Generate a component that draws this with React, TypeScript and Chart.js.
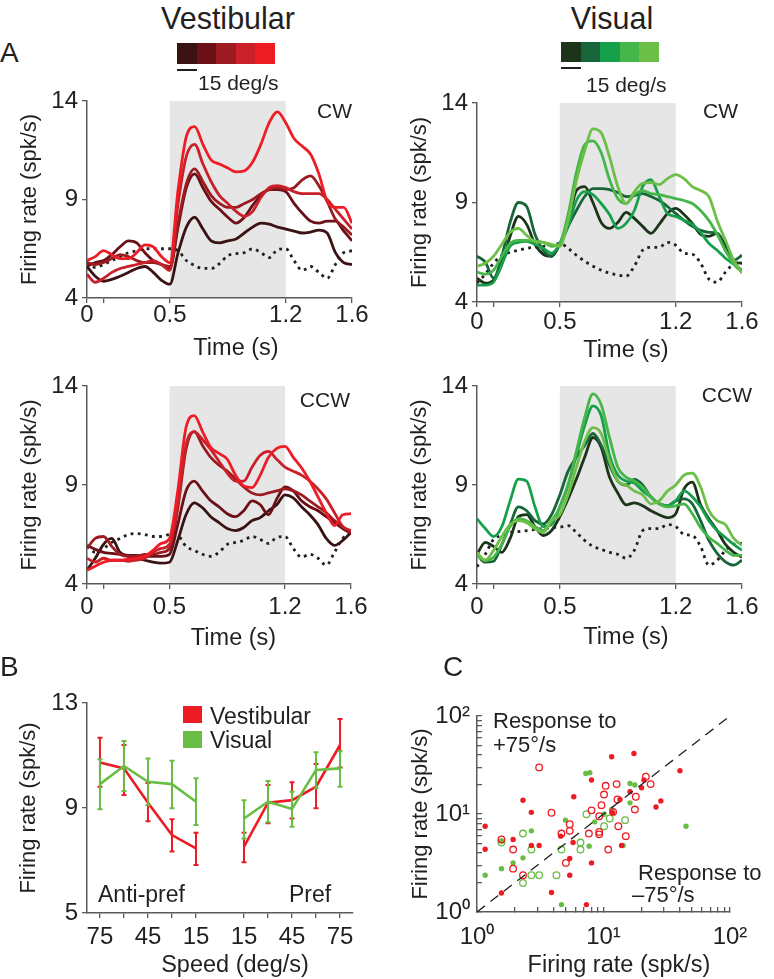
import React, { useEffect, useRef } from "react";
import { Chart, registerables } from "chart.js";
Chart.register(...registerables);

const FONT = '"Liberation Sans", Arial, Helvetica, sans-serif';
const TXT = "#231f20";
const AXIS = "#5a5a5a";
const SHADE = "#e6e6e6";
const FS_TICK = 24;
const FS_YTITLE = 22;

// ---------- Panel A data ----------
const TIME = [0, 0.05, 0.1, 0.15, 0.2, 0.25, 0.3, 0.35, 0.4, 0.45, 0.5, 0.55, 0.6, 0.65, 0.7, 0.75, 0.8, 0.85, 0.9, 0.95, 1.0, 1.05, 1.1, 1.15, 1.2, 1.25, 1.3, 1.35, 1.4, 1.45, 1.5, 1.55, 1.6];
const STIM_ON = 0.5;
const STIM_OFF = 1.2;
const A_X_TICKS = [0, 0.1, 0.5, 1.2, 1.6];
const A_X_LABELS = ["0", "", "0.5", "1.2", "1.6"];
const A_Y_TICKS = [4, 9, 14];

const VEST_COLORS = ["#3b1214", "#6b1016", "#9b1b21", "#c9202a", "#ee1c25"];
const VIS_COLORS = ["#1c3419", "#17663a", "#16a04b", "#45b649", "#6dbf47"];

const VEST_CW_1 = [5.6, 5.1, 4.85, 4.95, 5.1, 5.3, 5.5, 5.6, 5.3, 4.9, 4.7, 6.3, 7.6, 8.1, 7.5, 6.9, 6.8, 6.9, 7.0, 7.3, 7.6, 7.8, 7.75, 7.6, 7.5, 7.4, 7.3, 7.35, 7.45, 7.3, 6.3, 5.8, 5.7];
const VEST_CW_2 = [5.6, 5.8, 5.9, 6.2, 6.6, 6.9, 6.8, 6.3, 5.9, 5.7, 5.5, 7.6, 9.6, 10.3, 9.6, 8.9, 8.5, 8.1, 7.8, 8.1, 8.7, 9.2, 9.5, 9.5, 9.4, 8.8, 8.3, 7.9, 7.8, 7.9, 7.9, 7.4, 6.9];
const VEST_CW_3 = [5.8, 5.7, 5.8, 6.0, 6.2, 6.1, 5.9, 5.8, 5.8, 5.7, 5.6, 7.8, 9.8, 10.55, 9.9, 9.2, 8.8, 8.6, 8.6, 8.8, 9.0, 9.3, 9.5, 9.6, 9.5, 9.6, 10.0, 10.2, 9.7, 8.9, 8.0, 7.6, 7.2];
const VEST_CW_4 = [5.2, 4.8, 5.0, 5.3, 5.5, 5.6, 5.7, 5.8, 5.9, 5.7, 5.4, 8.8, 11.2, 11.8, 10.8, 9.9, 9.2, 8.8, 8.4, 8.15, 8.4, 9.1, 9.6, 9.7, 9.6, 9.4, 9.3, 9.3, 9.3, 9.0, 8.5, 8.0, 7.5];
const VEST_CW_5 = [5.9, 6.1, 6.4, 6.2, 6.0, 6.0, 6.3, 6.7, 6.6, 6.1, 5.8, 9.5, 12.2, 12.7, 11.8, 11.0, 10.8, 10.6, 10.4, 10.45, 10.9, 11.8, 12.9, 13.45, 12.9, 12.1, 11.7, 11.3, 10.3, 8.9, 8.6, 8.6, 7.8];
const VEST_CW_BASE = [5.8, 5.55, 5.7, 5.9, 6.1, 6.3, 6.4, 6.5, 6.5, 6.5, 6.5, 6.4, 5.9, 5.65, 5.5, 5.5, 5.75, 6.15, 6.25, 6.3, 6.5, 6.3, 6.05, 6.45, 6.5, 5.9, 5.4, 5.6, 5.3, 5.0, 5.7, 6.3, 6.4];

const VIS_CW_1 = [5.2, 4.95, 5.1, 5.9, 7.3, 8.3, 7.9, 6.9, 6.4, 6.3, 6.9, 8.0, 9.6, 9.8, 9.0, 8.0, 7.7, 8.0, 8.5, 8.2, 7.8, 7.45, 7.9, 8.45, 8.7, 8.4, 7.95, 7.4, 7.3, 7.45, 6.8, 6.0, 5.95];
const VIS_CW_2 = [6.3, 6.0, 5.2, 6.3, 8.0, 9.0, 8.8, 7.4, 6.6, 6.3, 6.95, 7.8, 8.6, 9.3, 9.7, 9.7, 9.65, 9.5, 9.3, 9.35, 9.45, 9.3, 9.1, 8.8, 8.45, 8.1, 7.8, 7.6, 7.5, 7.45, 6.6, 6.1, 6.35];
const VIS_CW_3 = [4.85, 4.85, 5.0, 5.9, 6.8, 7.0, 7.05, 6.9, 6.7, 6.45, 6.9, 7.8, 9.1, 9.55, 9.4, 8.95, 8.4, 7.7, 7.95, 8.6, 9.8, 10.15, 9.3, 8.45, 8.3, 8.1, 7.9, 7.5, 6.95, 6.6, 6.2, 5.9, 5.6];
const VIS_CW_4 = [5.5, 5.4, 5.6, 6.3, 6.95, 7.1, 7.1, 7.05, 7.0, 6.8, 6.95, 8.4, 10.5, 11.9, 12.1, 11.5, 10.15, 9.2, 8.95, 9.4, 9.6, 9.45, 9.4, 9.3, 9.2, 9.1, 8.95, 8.6, 8.1, 7.4, 6.6, 5.9, 5.5];
const VIS_CW_5 = [5.8, 5.95, 6.3, 6.9, 7.5, 7.7, 7.35, 7.05, 7.0, 6.9, 6.8, 8.1, 10.1, 11.6, 12.7, 12.5, 11.3, 9.8, 8.95, 9.55, 9.96, 10.0, 9.9, 10.2, 10.4, 10.2, 9.8, 9.6, 9.3, 8.1, 7.1, 6.1, 5.45];
const VIS_CW_BASE = [4.95, 5.4, 5.95, 6.35, 6.5, 6.6, 6.7, 6.75, 6.8, 6.85, 6.95, 6.7, 6.35, 6.05, 5.8, 5.6, 5.45, 5.35, 5.3, 5.8, 6.6, 6.75, 6.75, 7.0, 6.85, 6.45, 6.4, 5.95, 5.15, 5.0, 5.5, 5.9, 5.95];

const VEST_CCW_1 = [4.7, 5.3, 6.0, 6.3, 5.6, 5.4, 5.3, 5.2, 5.1, 5.05, 5.1, 6.2, 7.5, 8.1, 7.85, 7.4, 7.1, 6.8, 6.7, 6.85, 7.2, 7.35, 7.7, 8.0, 8.5, 8.35, 7.9, 7.5, 7.0, 6.3, 5.95, 6.2, 6.6];
const VEST_CCW_2 = [5.95, 5.75, 5.6, 5.55, 5.5, 5.45, 5.45, 5.4, 5.4, 5.4, 5.5, 7.0, 8.7, 9.2, 8.7, 8.2, 7.9, 7.55, 7.4, 7.7, 8.2, 8.0, 7.5, 8.3, 8.9, 8.7, 8.2, 7.9, 7.7, 7.4, 7.1, 6.8, 6.55];
const VEST_CCW_3 = [5.8, 6.3, 6.4, 5.9, 5.5, 5.4, 5.4, 5.5, 5.5, 5.6, 5.8, 7.8, 10.8, 11.7, 11.0, 10.4, 10.0, 9.7, 9.3, 8.9, 8.6, 8.5, 8.6, 8.7, 8.8, 8.7, 8.5, 8.2, 7.9, 7.6, 7.2, 6.9, 6.6];
const VEST_CCW_4 = [5.3, 5.1, 5.3, 5.2, 5.2, 5.15, 5.2, 5.3, 5.6, 5.8, 6.0, 8.0, 11.0, 11.7, 11.3, 10.8, 10.2, 9.6, 9.2, 9.2, 9.9, 10.5, 10.7, 10.3, 9.9, 9.7, 9.5, 9.2, 8.8, 8.3, 7.6, 6.9, 6.7];
const VEST_CCW_5 = [4.7, 4.9, 5.1, 5.2, 5.2, 5.25, 5.3, 5.4, 5.7, 6.05, 6.3, 8.7, 11.9, 12.5, 11.7, 10.9, 10.6, 10.3, 9.5, 8.95, 8.87, 9.5, 10.4, 10.85, 10.95, 10.4, 9.87, 9.2, 8.4, 7.6, 6.95, 7.5, 7.55];
const VEST_CCW_BASE = [5.9, 5.6, 5.8, 6.1, 6.3, 6.5, 6.55, 6.5, 6.4, 6.4, 6.5, 6.45, 5.9, 5.7, 5.5, 5.4, 5.6, 6.0, 6.1, 6.2, 6.4, 6.25, 6.05, 6.35, 6.4, 5.8, 5.35, 5.5, 5.3, 4.95, 5.6, 6.3, 6.6];

const VIS_CCW_1 = [5.5, 6.1, 5.9, 5.6, 6.3, 7.4, 7.5, 6.9, 6.45, 6.7, 7.4, 8.3, 9.3, 10.4, 11.4, 10.9, 9.4, 8.6, 8.0, 8.1, 7.95, 7.7, 7.5, 7.35, 7.55, 8.8, 9.15, 8.0, 7.3, 6.7, 6.0, 5.6, 5.35];
const VIS_CCW_2 = [5.5, 5.1, 5.15, 6.0, 7.0, 7.9, 7.7, 7.2, 7.03, 7.5, 8.5, 9.7, 10.4, 11.0, 11.6, 11.0, 10.0, 9.2, 9.0, 9.28, 9.0, 8.4, 8.05, 7.95, 8.2, 8.3, 8.05, 7.2, 6.2, 5.55, 5.12, 4.95, 5.2];
const VIS_CCW_3 = [7.3, 6.8, 6.4, 6.9, 8.2, 9.3, 9.2, 7.9, 6.9, 7.0, 7.9, 9.0, 10.5, 12.0, 13.0, 12.5, 10.5, 9.5, 9.2, 9.1, 8.7, 8.4, 8.05, 7.95, 8.2, 8.7, 8.4, 7.9, 7.2, 6.7, 6.35, 6.0, 5.7];
const VIS_CCW_4 = [5.45, 5.2, 5.35, 6.0, 6.9, 7.3, 7.2, 6.9, 6.7, 7.2, 7.85, 9.0, 10.7, 12.4, 13.6, 13.05, 11.4, 9.9, 9.4, 9.2, 8.9, 8.4, 8.05, 7.9, 7.95, 8.05, 7.55, 6.85, 6.35, 6.05, 5.7, 5.45, 5.45];
const VIS_CCW_5 = [5.6, 5.2, 5.7, 6.4, 7.0, 7.2, 7.1, 6.8, 6.6, 7.2, 7.5, 8.5, 9.9, 11.2, 11.9, 11.6, 10.2, 9.2, 9.0, 8.7, 8.5, 8.05, 8.2, 8.7, 9.0, 9.5, 9.6, 8.9, 7.7, 7.2, 7.0, 6.3, 5.95];
const VIS_CCW_BASE = [4.87, 5.5, 6.25, 6.45, 6.6, 6.65, 6.7, 6.75, 6.8, 6.85, 6.87, 6.95, 6.6, 6.2, 5.9, 5.75, 5.6, 5.5, 5.3, 5.7, 6.7, 6.8, 6.8, 7.0, 6.9, 6.5, 6.45, 5.9, 4.95, 5.2, 5.7, 6.0, 6.05];

// ---------- Panel B data ----------
const B_POS = [0, 1, 2, 3, 4, 6, 7, 8, 9, 10];
const B_GAP = 5;
const B_TICK_LABELS: Record<number, string> = { 0: "75", 2: "45", 4: "15", 6: "15", 8: "45", 10: "75" };
const B_Y_TICKS = [5, 9, 13];
const VEST_MEAN = [10.73, 10.51, 9.2, 7.97, 7.46, 7.53, 9.2, 9.3, 9.81, 11.4];
const VEST_HI = [11.68, 11.4, 9.95, 8.57, 8.06, 8.06, 9.88, 9.98, 10.68, 12.39];
const VEST_LO = [9.81, 9.5, 8.5, 7.34, 6.83, 6.93, 8.42, 8.6, 8.99, 10.54];
const VIS_MEAN = [9.91, 10.6, 10.0, 9.91, 9.24, 8.6, 9.24, 8.96, 10.45, 10.51];
const VIS_HI = [10.86, 11.55, 10.89, 10.8, 10.13, 9.3, 10.03, 9.62, 11.12, 11.17];
const VIS_LO = [8.95, 9.65, 9.11, 8.99, 8.35, 7.84, 8.46, 8.29, 9.75, 9.81];
const RED = "#ed1c24";
const GREEN = "#68bd45";

// ---------- Panel C data ----------
const C_TICKS = [1, 2, 3, 4, 5, 6, 7, 8, 9, 10, 20, 30, 40, 50, 60, 70, 80, 90, 100];
const C_LABELS: Record<number, string> = { 1: "10\u2070", 10: "10\u00b9", 100: "10\u00b2" };
const RED_FILLED_X = [1.16, 1.16, 1.93, 2.31, 2.69, 2.69, 3.1, 3.88, 4.59, 5.41, 5.41, 5.75, 5.82, 7.33, 8.04, 8.04, 11.6, 11.8, 13.5, 13.9, 16.2, 17.4, 20.0, 20.9, 26, 28.4, 40.2, 1.56];
const RED_FILLED_Y = [7.5, 4.37, 5.49, 13.8, 10.4, 4.77, 4.77, 1.58, 5.94, 3.51, 2.37, 5.11, 15.0, 1.19, 22.2, 3.17, 38.4, 10.3, 14.1, 4.77, 16.9, 41.5, 18.5, 22.2, 11.8, 13.6, 27.6, 1.56];
const RED_OPEN_X = [3.1, 3.88, 1.56, 1.93, 1.93, 2.31, 4.65, 5.41, 5.41, 5.04, 7.66, 8.04, 9.25, 9.25, 9.25, 9.64, 10.1, 10.4, 10.9, 11.9, 12.7, 12.9, 13.1, 15.0, 17.7, 18.0, 21.6, 23.6];
const RED_OPEN_Y = [29.9, 10.3, 5.49, 4.34, 2.77, 2.37, 6.32, 7.87, 6.73, 3.17, 6.32, 10.9, 6.57, 6.2, 9.5, 12.3, 15.8, 19.4, 4.34, 10.5, 20.2, 14.1, 7.5, 5.94, 11.1, 15.0, 24.0, 20.2];
const GREEN_FILLED_X = [1.16, 1.56, 1.56, 1.93, 2.31, 2.69, 4.65, 5.0, 7.25, 7.8, 7.7, 8.53, 10.1, 11.6, 16.2, 16.2, 17.7, 14.3, 44.9];
const GREEN_FILLED_Y = [2.37, 2.77, 5.3, 3.17, 3.57, 6.73, 1.19, 8.65, 25.9, 26.4, 4.7, 8.32, 9.95, 11.1, 20.5, 13.0, 19.8, 4.77, 7.5];
const GREEN_OPEN_X = [1.56, 2.31, 2.69, 2.31, 2.69, 3.1, 4.25, 4.65, 6.58, 6.58, 7.33, 10.1, 11.2, 14.8];
const GREEN_OPEN_Y = [5.11, 6.32, 4.34, 1.98, 2.37, 2.37, 2.37, 4.34, 5.11, 4.34, 9.95, 7.5, 9.0, 8.65];
const C_DIAG = [1, 100];

// ---------- layout ----------
type Frame = { cl: number; ct: number; cw: number; ch: number; L: number; T: number; R: number; B: number; yTitleX: number; xPad: number };
const F_A1: Frame = { cl: 0, ct: 85, cw: 380, ch: 275, L: 87, T: 98, R: 352, B: 298, yTitleX: 30, xPad: 0.5 };
const F_A2: Frame = { cl: 390, ct: 85, cw: 384, ch: 280, L: 477, T: 103, R: 742, B: 302, yTitleX: 420, xPad: 3.5 };
const F_A3: Frame = { cl: 0, ct: 370, cw: 380, ch: 280, L: 87, T: 384, R: 351, B: 584, yTitleX: 30, xPad: 6 };
const F_A4: Frame = { cl: 390, ct: 370, cw: 384, ch: 280, L: 477, T: 384, R: 742, B: 584, yTitleX: 420, xPad: 6 };
const F_B: Frame = { cl: 0, ct: 680, cw: 380, ch: 299, L: 87, T: 703, R: 353, B: 913, yTitleX: 29, xPad: 7.5 };
const F_C: Frame = { cl: 390, ct: 680, cw: 384, ch: 299, L: 477, T: 716, R: 730, B: 912, yTitleX: 421, xPad: 18 };

function layoutOf(f: Frame) {
  return { padding: { left: 0, top: f.T - f.ct, right: f.cl + f.cw - f.R, bottom: 0 } };
}

function xAxis(f: Frame, o: { type: string; min: number; max: number; ticks: number[]; label: (v: number) => string; tl?: number }) {
  return {
    type: o.type, min: o.min, max: o.max,
    afterBuildTicks: (s: any) => { s.ticks = o.ticks.map((v) => ({ value: v })); },
    afterFit: (s: any) => { s.height = f.ct + f.ch - f.B; },
    grid: { drawOnChartArea: false, drawTicks: true, tickLength: o.tl ?? 5, color: AXIS, lineWidth: 1.3 },
    border: { display: true, color: AXIS, width: 1.5 },
    ticks: { autoSkip: false, maxRotation: 0, minRotation: 0, padding: f.xPad, color: TXT, font: { family: FONT, size: FS_TICK, lineHeight: 1 }, callback: (v: any) => o.label(v) },
    title: { display: false },
  };
}
function yAxis(f: Frame, o: { type: string; min: number; max: number; ticks: number[]; label: (v: number) => string; pad: number; tl?: number }) {
  return {
    type: o.type, min: o.min, max: o.max,
    afterBuildTicks: (s: any) => { s.ticks = o.ticks.map((v) => ({ value: v })); },
    afterFit: (s: any) => { s.width = f.L - f.cl; },
    grid: { drawOnChartArea: false, drawTicks: true, tickLength: o.tl ?? 5, color: AXIS, lineWidth: 1.3 },
    border: { display: true, color: AXIS, width: 1.5 },
    ticks: { autoSkip: false, padding: o.pad, color: TXT, font: { family: FONT, size: FS_TICK, lineHeight: 1 }, callback: (v: any) => o.label(v) },
    title: { display: true, text: "Firing rate (spk/s)", color: TXT, font: { family: FONT, size: FS_YTITLE, lineHeight: 1.2 }, padding: { top: f.yTitleX - f.cl - FS_YTITLE * 0.6, bottom: 0 } },
  };
}

const shadePlugin = {
  id: "shade",
  beforeDraw(chart: any) {
    const { ctx, chartArea, scales } = chart;
    const x1 = scales.x.getPixelForValue(STIM_ON);
    const x2 = scales.x.getPixelForValue(STIM_OFF);
    ctx.save();
    ctx.fillStyle = SHADE;
    ctx.fillRect(x1, chartArea.top, x2 - x1, chartArea.bottom - chartArea.top);
    ctx.restore();
  },
};

function lineConfig(f: Frame, series: number[][], colors: string[], base: number[]): any {
  const datasets: any[] = [];
  for (let i = series.length - 1; i >= 0; i--) {
    datasets.push({
      data: series[i].map((y, k) => ({ x: TIME[k], y })),
      borderColor: colors[i], borderWidth: 2.8, pointRadius: 0, tension: 0.4, cubicInterpolationMode: "monotone", fill: false,
    });
  }
  datasets.push({
    data: base.map((y, k) => ({ x: TIME[k], y })),
    borderColor: TXT, borderWidth: 2.8, borderDash: [2.8, 4.4], pointRadius: 0, tension: 0.4, cubicInterpolationMode: "monotone", fill: false,
  });
  return {
    type: "line",
    data: { datasets },
    plugins: [shadePlugin],
    options: {
      responsive: false, animation: false, devicePixelRatio: 1,
      layout: layoutOf(f),
      plugins: { legend: { display: false }, tooltip: { enabled: false } },
      scales: {
        x: xAxis(f, { type: "linear", min: 0, max: 1.6, ticks: A_X_TICKS, label: (v) => A_X_LABELS[A_X_TICKS.indexOf(v)] ?? "" }),
        y: yAxis(f, { type: "linear", min: 4, max: 14, ticks: A_Y_TICKS, label: (v) => String(v), pad: 4 }),
      },
    },
  };
}

const errPlugin = {
  id: "errbars",
  afterDatasetDraw(chart: any, args: any) {
    const ds = chart.data.datasets[args.index];
    if (!ds.errLo) return;
    const { ctx } = chart;
    const xs = chart.scales.x, ys = chart.scales.y;
    ctx.save();
    ctx.strokeStyle = ds.borderColor;
    ctx.lineWidth = 2;
    ds.errLo.forEach((lo: number, i: number) => {
      const x = xs.getPixelForValue(B_POS[i]);
      const y1 = ys.getPixelForValue(lo);
      const y2 = ys.getPixelForValue(ds.errHi[i]);
      ctx.beginPath();
      ctx.moveTo(x, y1); ctx.lineTo(x, y2);
      ctx.moveTo(x - 2.5, y1); ctx.lineTo(x + 2.5, y1);
      ctx.moveTo(x - 2.5, y2); ctx.lineTo(x + 2.5, y2);
      ctx.stroke();
    });
    ctx.restore();
  },
};

function bSeries(mean: number[]) {
  const out: any[] = [];
  B_POS.forEach((x, i) => {
    if (x === B_GAP + 1) out.push({ x: B_GAP, y: null });
    out.push({ x, y: mean[i] });
  });
  return out;
}

function bConfig(f: Frame): any {
  return {
    type: "line",
    data: {
      datasets: [
        { data: bSeries(VIS_MEAN), borderColor: GREEN, borderWidth: 2.6, pointRadius: 0, tension: 0, spanGaps: false, errLo: VIS_LO, errHi: VIS_HI },
        { data: bSeries(VEST_MEAN), borderColor: RED, borderWidth: 2.6, pointRadius: 0, tension: 0, spanGaps: false, errLo: VEST_LO, errHi: VEST_HI },
      ],
    },
    plugins: [errPlugin],
    options: {
      responsive: false, animation: false, devicePixelRatio: 1,
      layout: layoutOf(f),
      plugins: { legend: { display: false }, tooltip: { enabled: false } },
      scales: {
        x: xAxis(f, { type: "linear", min: -0.54, max: 10.54, ticks: B_POS, label: (v) => B_TICK_LABELS[v] ?? "" }),
        y: yAxis(f, { type: "linear", min: 5, max: 13, ticks: B_Y_TICKS, label: (v) => String(v), pad: 4 }),
      },
    },
  };
}

function pts(xs: number[], ys: number[]) {
  return xs.map((x, i) => ({ x, y: ys[i] }));
}

function cConfig(f: Frame): any {
  return {
    type: "scatter",
    data: {
      datasets: [
        { data: pts(C_DIAG, C_DIAG), showLine: true, borderColor: TXT, borderWidth: 1.3, borderDash: [10, 7], pointRadius: 0 },
        { data: pts(RED_FILLED_X, RED_FILLED_Y), backgroundColor: RED, borderWidth: 0, pointRadius: 2.7 },
        { data: pts(RED_OPEN_X, RED_OPEN_Y), backgroundColor: "rgba(0,0,0,0)", borderColor: RED, borderWidth: 1.3, pointRadius: 3.3 },
        { data: pts(GREEN_FILLED_X, GREEN_FILLED_Y), backgroundColor: GREEN, borderWidth: 0, pointRadius: 2.7 },
        { data: pts(GREEN_OPEN_X, GREEN_OPEN_Y), backgroundColor: "rgba(0,0,0,0)", borderColor: GREEN, borderWidth: 1.3, pointRadius: 3.3 },
      ],
    },
    options: {
      responsive: false, animation: false, devicePixelRatio: 1,
      layout: layoutOf(f),
      plugins: { legend: { display: false }, tooltip: { enabled: false } },
      scales: {
        x: xAxis(f, { type: "logarithmic", min: 1, max: 100, ticks: C_TICKS, label: (v) => C_LABELS[v] ?? "", tl: -5 }),
        y: yAxis(f, { type: "logarithmic", min: 1, max: 100, ticks: C_TICKS, label: (v) => C_LABELS[v] ?? "", pad: 12, tl: -5 }),
      },
    },
  };
}

// ---------- overlays ----------
type T = { text: string; size: number; top: number; left?: number; right?: number; cx?: number };
const TEXTS: T[] = [
  { text: "Vestibular", size: 30.5, top: 3.0, cx: 228 },
  { text: "Visual", size: 30.5, top: 3.0, cx: 612 },
  { text: "A", size: 28, top: 39.4, left: 0 },
  { text: "B", size: 28, top: 653.4, left: 0 },
  { text: "C", size: 28, top: 653.4, left: 443 },
  { text: "15 deg/s", size: 21, top: 72, left: 198 },
  { text: "15 deg/s", size: 21, top: 74, left: 586 },
  { text: "CW", size: 21, top: 100.3, right: 352 },
  { text: "CW", size: 21, top: 100.3, right: 738 },
  { text: "CCW", size: 21, top: 389.3, right: 350 },
  { text: "CCW", size: 21, top: 384.3, right: 752 },
  { text: "Time (s)", size: 23.5, top: 335.8, cx: 236 },
  { text: "Time (s)", size: 23.5, top: 337.8, cx: 626 },
  { text: "Time (s)", size: 23.5, top: 626.3, cx: 233.5 },
  { text: "Time (s)", size: 23.5, top: 624.8, cx: 626 },
  { text: "Speed (deg/s)", size: 23.5, top: 952.8, cx: 235 },
  { text: "Firing rate (spk/s)", size: 23.5, top: 952.8, cx: 619 },
  { text: "Vestibular", size: 23, top: 705, left: 210 },
  { text: "Visual", size: 23, top: 729, left: 210 },
  { text: "Anti-pref", size: 23, top: 883, left: 98 },
  { text: "Pref", size: 23, top: 883, left: 289 },
  { text: "Response to", size: 22, top: 709.8, left: 493 },
  { text: "+75\u00b0/s", size: 22, top: 734.1, left: 493 },
  { text: "Response to", size: 22, top: 862.1, left: 638 },
  { text: "\u201375\u00b0/s", size: 22, top: 884.1, left: 632 },
];

function Txt({ t }: { t: T }) {
  const style: any = { position: "absolute", top: t.top, fontSize: t.size, lineHeight: `${t.size}px`, whiteSpace: "nowrap", fontFamily: FONT, color: TXT, zIndex: 2 };
  if (t.cx !== undefined) { style.left = t.cx - 150; style.width = 300; style.textAlign = "center"; }
  else if (t.right !== undefined) { style.right = 774 - t.right; style.textAlign = "right"; }
  else style.left = t.left;
  return <div style={style}>{t.text}</div>;
}

function ColorBar({ left, top, colors, h }: { left: number; top: number; colors: string[]; h: number }) {
  return (
    <div style={{ position: "absolute", left, top, display: "flex", zIndex: 2 }}>
      {colors.map((c, i) => <div key={i} style={{ width: 19.6, height: h, background: c }} />)}
    </div>
  );
}

export default function App() {
  const r1 = useRef<HTMLCanvasElement>(null);
  const r2 = useRef<HTMLCanvasElement>(null);
  const r3 = useRef<HTMLCanvasElement>(null);
  const r4 = useRef<HTMLCanvasElement>(null);
  const r5 = useRef<HTMLCanvasElement>(null);
  const r6 = useRef<HTMLCanvasElement>(null);

  useEffect(() => {
    const charts: Chart[] = [];
    charts.push(new Chart(r1.current!, lineConfig(F_A1, [VEST_CW_1, VEST_CW_2, VEST_CW_3, VEST_CW_4, VEST_CW_5], VEST_COLORS, VEST_CW_BASE)));
    charts.push(new Chart(r2.current!, lineConfig(F_A2, [VIS_CW_1, VIS_CW_2, VIS_CW_3, VIS_CW_4, VIS_CW_5], VIS_COLORS, VIS_CW_BASE)));
    charts.push(new Chart(r3.current!, lineConfig(F_A3, [VEST_CCW_1, VEST_CCW_2, VEST_CCW_3, VEST_CCW_4, VEST_CCW_5], VEST_COLORS, VEST_CCW_BASE)));
    charts.push(new Chart(r4.current!, lineConfig(F_A4, [VIS_CCW_1, VIS_CCW_2, VIS_CCW_3, VIS_CCW_4, VIS_CCW_5], VIS_COLORS, VIS_CCW_BASE)));
    charts.push(new Chart(r5.current!, bConfig(F_B)));
    charts.push(new Chart(r6.current!, cConfig(F_C)));
    return () => charts.forEach((c) => c.destroy());
  }, []);

  const cv = (ref: any, f: Frame) => (
    <canvas ref={ref} width={f.cw} height={f.ch} style={{ position: "absolute", left: f.cl, top: f.ct, width: f.cw, height: f.ch, zIndex: 1 }} />
  );

  return (
    <div style={{ position: "absolute", left: 0, top: 0, width: 774, height: 979, background: "#ffffff", overflow: "hidden" }}>
      {cv(r1, F_A1)}
      {cv(r2, F_A2)}
      {cv(r3, F_A3)}
      {cv(r4, F_A4)}
      {cv(r5, F_B)}
      {cv(r6, F_C)}
      <ColorBar left={177} top={43} colors={VEST_COLORS} h={21} />
      <ColorBar left={561} top={42} colors={VIS_COLORS} h={20} />
      <div style={{ position: "absolute", left: 177, top: 69, width: 20, height: 1.6, background: TXT, zIndex: 2 }} />
      <div style={{ position: "absolute", left: 561, top: 67, width: 20, height: 1.6, background: TXT, zIndex: 2 }} />
      <div style={{ position: "absolute", left: 183, top: 706, width: 19, height: 17, background: RED, zIndex: 2 }} />
      <div style={{ position: "absolute", left: 183, top: 731, width: 19, height: 17, background: GREEN, zIndex: 2 }} />
      {TEXTS.map((t, i) => <Txt key={i} t={t} />)}
    </div>
  );
}
